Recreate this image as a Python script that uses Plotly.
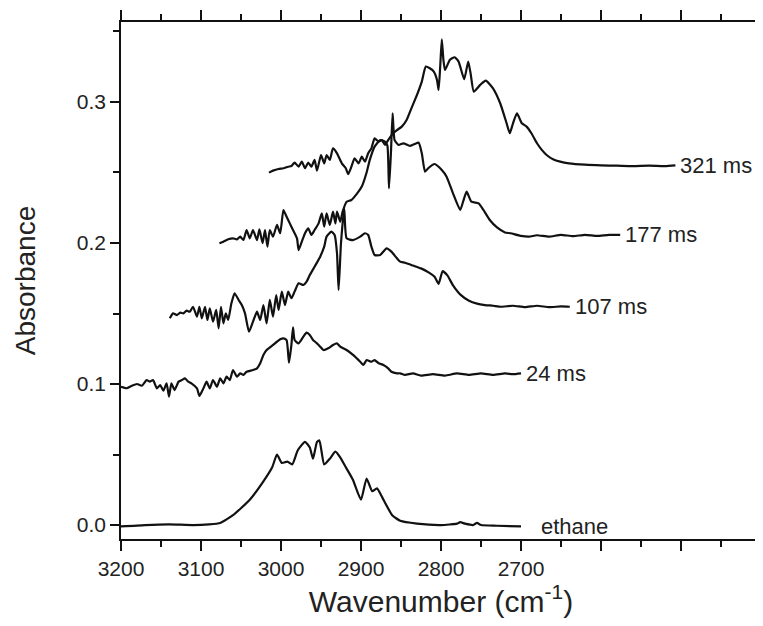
import plotly.graph_objects as go

# wavenumber (cm-1) / absorbance
ETH_W = [3200, 3170, 3140, 3110, 3090, 3076, 3060, 3039, 3022, 3011, 3005, 2999, 2992, 2986, 2979, 2970, 2964, 2960,
         2955, 2952, 2946, 2939, 2932, 2926, 2918, 2910, 2900, 2893, 2886, 2880, 2872, 2861, 2851, 2830, 2800, 2780,
         2776, 2770, 2760, 2755, 2750, 2730, 2700]
ETH_A = [-0.001, 0.0, 0.0005, 0.0, 0.0005, 0.0015, 0.007, 0.018, 0.031, 0.041, 0.050, 0.044, 0.045, 0.043, 0.053,
         0.059, 0.055, 0.047, 0.059, 0.060, 0.043, 0.047, 0.052, 0.048, 0.040, 0.032, 0.018, 0.033, 0.024, 0.026,
         0.018, 0.007, 0.003, 0.001, 0.0, 0.001, 0.002, 0.001, 0.0, 0.0015, 0.0, -0.0005, -0.001]

W24 = [3200, 3193, 3187, 3180, 3174, 3168, 3164, 3160, 3155, 3151, 3147, 3143, 3140, 3137, 3133, 3128, 3124, 3120,
       3116, 3112, 3105, 3102, 3097, 3093, 3089, 3085, 3080, 3076, 3072, 3068, 3064, 3060, 3055, 3051, 3047, 3043,
       3035, 3030, 3026, 3022, 3018, 3010, 3001, 2997, 2993, 2990, 2987, 2985, 2983, 2978, 2972, 2968, 2964, 2960,
       2955, 2951, 2947, 2941, 2935, 2930, 2926, 2918, 2910, 2901, 2897, 2893, 2887, 2883, 2878, 2872, 2866, 2862,
       2855, 2851, 2845, 2835, 2825, 2810, 2795, 2780, 2765, 2750, 2735, 2720, 2710, 2700]
A24 = [0.098, 0.097, 0.0986, 0.100, 0.0988, 0.1028, 0.1017, 0.1028, 0.0969, 0.0993, 0.0953, 0.1005, 0.0910, 0.1005,
       0.0957, 0.1017, 0.1028, 0.1040, 0.1017, 0.1005, 0.0969, 0.0915, 0.0969, 0.1017, 0.0969, 0.1028, 0.0981, 0.1040,
       0.1005, 0.1052, 0.1028, 0.1099, 0.1052, 0.1076, 0.1064, 0.1087, 0.1099, 0.1111, 0.1147, 0.1206, 0.1241, 0.1277,
       0.1317, 0.1324, 0.1312, 0.1151, 0.1277, 0.1402, 0.1312, 0.1288, 0.1336, 0.1364, 0.1348, 0.1312, 0.1288, 0.1265,
       0.1241, 0.1253, 0.1277, 0.1288, 0.1265, 0.1241, 0.1206, 0.1158, 0.1135, 0.1170, 0.1158, 0.1170, 0.1147, 0.1135,
       0.1111, 0.1087, 0.1076, 0.1076, 0.1065, 0.1075, 0.1060, 0.1070, 0.1060, 0.1075, 0.1065, 0.1075, 0.1065, 0.1075,
       0.1070, 0.1076]

W107 = [3139, 3135, 3130, 3126, 3122, 3118, 3114, 3110, 3105, 3102, 3099, 3095, 3092, 3089, 3085, 3081, 3078, 3075,
        3072, 3069, 3066, 3062, 3058, 3053, 3049, 3045, 3040, 3035, 3030, 3026, 3022, 3018, 3014, 3010, 3006, 3003,
        2999, 2995, 2991, 2987, 2983, 2978, 2972, 2968, 2964, 2958, 2951, 2946, 2943, 2937, 2933, 2930, 2928, 2925,
        2921, 2918, 2910, 2901, 2895, 2891, 2887, 2883, 2876, 2868, 2862, 2855, 2851, 2845, 2835, 2825, 2815, 2808,
        2803, 2798, 2792, 2785, 2775, 2765, 2755, 2745, 2735, 2725, 2710, 2695, 2680, 2665, 2650, 2639]
A107 = [0.1466, 0.1501, 0.1489, 0.1506, 0.1501, 0.1520, 0.1513, 0.1548, 0.1478, 0.1548, 0.1466, 0.1548, 0.1454,
        0.1537, 0.1442, 0.1525, 0.1395, 0.1548, 0.1430, 0.1501, 0.1454, 0.1572, 0.1643, 0.1596, 0.1560, 0.1501,
        0.1371, 0.1442, 0.1513, 0.1454, 0.1560, 0.1430, 0.1596, 0.1478, 0.1631, 0.1525, 0.1655, 0.1560, 0.1655,
        0.1608, 0.1655, 0.1714, 0.1702, 0.1726, 0.1773, 0.1832, 0.1903, 0.1974, 0.2045, 0.2080, 0.2057, 0.1927,
        0.1667, 0.2000, 0.2246, 0.2033, 0.2021, 0.2045, 0.2069, 0.2057, 0.1974, 0.1915, 0.1915, 0.1962, 0.1939,
        0.1891, 0.1868, 0.186, 0.184, 0.182, 0.179, 0.176, 0.171, 0.180, 0.177, 0.170, 0.163, 0.159, 0.157, 0.156,
        0.1555, 0.1548, 0.1555, 0.1545, 0.1555, 0.1545, 0.155, 0.1548]

W177 = [3077, 3072, 3066, 3060, 3055, 3051, 3047, 3043, 3039, 3035, 3030, 3027, 3023, 3020, 3017, 3014, 3010, 3005,
        3001, 2997, 2994, 2989, 2985, 2980, 2978, 2974, 2970, 2966, 2962, 2958, 2953, 2949, 2946, 2943, 2939, 2935,
        2932, 2930, 2926, 2923, 2918, 2912, 2905, 2899, 2893, 2889, 2883, 2876, 2870, 2867, 2865, 2862.5, 2860.5,
        2858, 2853, 2847, 2839, 2833, 2828, 2824, 2820, 2816, 2808, 2799, 2793, 2785, 2776, 2772, 2768, 2762, 2753,
        2747, 2739, 2730, 2720, 2713, 2700, 2690, 2680, 2665, 2650, 2635, 2620, 2605, 2590, 2576]
A177 = [0.1998, 0.2009, 0.2026, 0.2033, 0.2026, 0.2045, 0.2021, 0.2092, 0.2033, 0.2092, 0.2021, 0.2097, 0.1998,
        0.2092, 0.1974, 0.2092, 0.2045, 0.2128, 0.2069, 0.2234, 0.2199, 0.2139, 0.2092, 0.2033, 0.1950, 0.2009,
        0.2069, 0.2104, 0.2057, 0.2092, 0.2139, 0.2210, 0.2116, 0.2210, 0.2128, 0.2222, 0.2139, 0.2222, 0.2151,
        0.2222, 0.2293, 0.2305, 0.2350, 0.2400, 0.2500, 0.2589, 0.2683, 0.2730, 0.2719, 0.2690, 0.2388, 0.2650,
        0.2920, 0.2730, 0.2695, 0.2707, 0.2688, 0.2702, 0.2712, 0.2636, 0.2506, 0.2530, 0.2560, 0.2518, 0.2470,
        0.2352, 0.2234, 0.2300, 0.2364, 0.2293, 0.2281, 0.2234, 0.2163, 0.2110, 0.2075, 0.2069, 0.2050, 0.2045,
        0.2055, 0.2045, 0.2058, 0.2048, 0.2058, 0.2050, 0.2058, 0.2057]

W321 = [3015, 3010, 3003, 2997, 2991, 2987, 2983, 2978, 2974, 2970, 2966, 2962, 2958, 2955, 2950, 2946, 2943, 2939,
        2935, 2930, 2924, 2919, 2916, 2912, 2908, 2903, 2899, 2895, 2891, 2887, 2883, 2878, 2874, 2870, 2866, 2860,
        2855, 2849, 2843, 2837, 2830, 2824, 2819, 2814, 2809, 2805, 2803, 2801, 2799, 2797, 2795, 2789, 2783, 2778,
        2771, 2766, 2763, 2759, 2751, 2744, 2735, 2726, 2718, 2714, 2710, 2705, 2699, 2693, 2687, 2680, 2674, 2668,
        2660, 2651, 2640, 2620, 2600, 2580, 2560, 2540, 2520, 2507]
A321 = [0.2499, 0.2513, 0.2525, 0.2530, 0.2541, 0.2546, 0.2570, 0.2541, 0.2577, 0.2530, 0.2570, 0.2541, 0.2589,
        0.2513, 0.2624, 0.2565, 0.2624, 0.2589, 0.2671, 0.2636, 0.2565, 0.2530, 0.2489, 0.2541, 0.2600, 0.2565,
        0.2612, 0.2577, 0.2636, 0.2671, 0.2742, 0.2719, 0.2730, 0.2695, 0.2730, 0.2778, 0.2801, 0.2825, 0.2872,
        0.2955, 0.3050, 0.3144, 0.3251, 0.3239, 0.3215, 0.3156, 0.3085, 0.3250, 0.3444, 0.3300, 0.3227, 0.3298,
        0.3317, 0.3286, 0.3161, 0.3286, 0.3203, 0.3073, 0.3121, 0.3151, 0.3097, 0.2991, 0.2849, 0.2778, 0.2849,
        0.2920, 0.2849, 0.2825, 0.2778, 0.2707, 0.2660, 0.2624, 0.2594, 0.2577, 0.2565, 0.2555, 0.2550, 0.2548,
        0.2545, 0.2548, 0.2545, 0.2550]

SERIES = [("ethane", ETH_W, ETH_A), ("24 ms", W24, A24), ("107 ms", W107, A107),
          ("177 ms", W177, A177), ("321 ms", W321, A321)]

# labelled ticks, plus bare ticks past the data
X_TICKS = [3200, 3100, 3000, 2900, 2800, 2700]
X_BARE_TICKS = [2600, 2500, 2400]
X_RANGE = [3200, 2400]
Y_RANGE = [-0.0099, 0.3567]

FONT = "Liberation Sans, Arial, sans-serif"
INK = "#111111"
TXT = "#222222"

fig = go.Figure()
for name, w, a in SERIES:
    fig.add_scatter(x=w, y=a, mode="lines", name=name, hoverinfo="skip",
                    line=dict(color=INK, width=2.2, shape="spline", smoothing=0.5))
    # label just right of the end of each trace
    fig.add_annotation(x=w[-1], y=a[-1], text=name, showarrow=False, xanchor="left", yanchor="middle",
                       xshift=18 if name == "ethane" else 3, font=dict(size=22, color=TXT, family=FONT))

axis_common = dict(showgrid=False, zeroline=False, showline=True, linecolor=INK, linewidth=1.5, automargin=False,
                   ticks="outside", tickcolor=INK, tickwidth=1.5, tickfont=dict(size=21, color=TXT, family=FONT))
minor_x = dict(dtick=50, tick0=0, ticks="outside", ticklen=6, tickwidth=1.5, tickcolor=INK)

# the page body keeps its default 8px margin, so the figure is sized to sit inside the window
fig.update_layout(
    width=755, height=618, showlegend=False,
    margin=dict(l=113, r=2, t=14, b=87),
    plot_bgcolor="white", paper_bgcolor="white",
    xaxis=dict(axis_common, range=X_RANGE, tickmode="array", tickvals=X_TICKS,
               ticklen=10, mirror="ticks", minor=minor_x,
               title=dict(text="Wavenumber (cm<sup>-1</sup>)", standoff=10, font=dict(size=30, color=TXT, family=FONT))),
    xaxis2=dict(axis_common, range=X_RANGE, overlaying="x", side="bottom", anchor="y", tickmode="array",
                tickvals=X_BARE_TICKS, showticklabels=False, ticklen=10, mirror="ticks"),
    yaxis=dict(axis_common, range=Y_RANGE, tick0=0, dtick=0.1, tickformat=".1f", ticklen=9, mirror=True,
               minor=dict(dtick=0.05, tick0=0, ticks="outside", ticklen=6, tickwidth=1.5, tickcolor=INK),
               title=dict(text="Absorbance", standoff=33, font=dict(size=28, color=TXT, family=FONT))),
)
# invisible trace so the second x axis (bare ticks) is drawn
fig.add_scatter(x=X_RANGE, y=Y_RANGE, xaxis="x2", mode="lines", line=dict(width=0), hoverinfo="skip", opacity=0)

fig.write_html("out.html")
